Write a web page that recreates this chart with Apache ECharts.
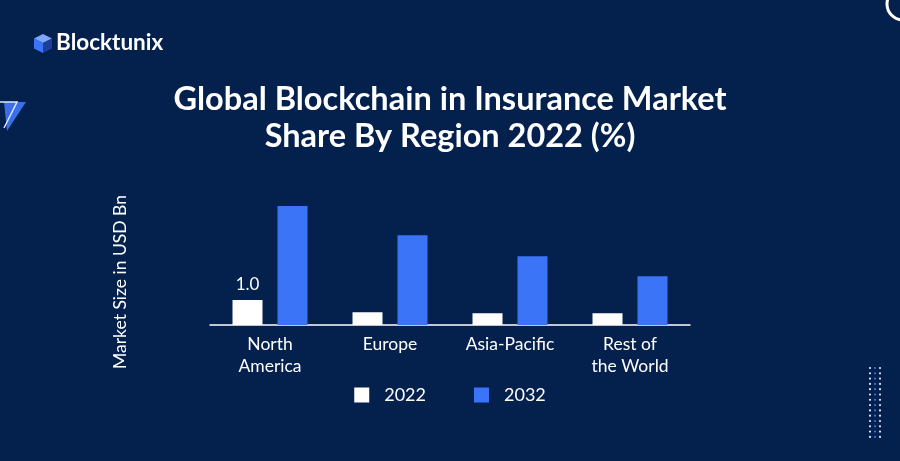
<!DOCTYPE html>
<html>
<head>
<meta charset="utf-8">
<script src="https://cdn.jsdelivr.net/npm/echarts@6/dist/echarts.min.js"></script>
<style>
html,body{margin:0;padding:0;background:#04204d;}
#chart{width:900px;height:461px;}
</style>
</head>
<body>
<div id="chart"></div>
<script>
const categories = ['North\nAmerica', 'Europe', 'Asia-Pacific', 'Rest of\nthe World'];
const values2022 = [1.0, 0.51, 0.47, 0.47];
const values2032 = [4.76, 3.59, 2.75, 1.95];
const seriesNames = ['2022', '2032'];

const FONT = 'Lato, "Open Sans", sans-serif';
const chart = echarts.init(document.getElementById('chart'), null, {renderer: 'canvas'});

// decorative dot matrix (bottom right)
const dots = [];
for (let r = 0; r < 14; r++) {
  for (let c = 0; c < 3; c++) {
    dots.push({
      type: 'circle',
      shape: {cx: 870 + c * 5, cy: 368 + r * 5.3, r: 1.1},
      style: {fill: c === 1 ? '#3b6fe0' : '#dfe8ff'},
      silent: true
    });
  }
}

const option = {
  backgroundColor: '#04204d',
  animation: false,
  title: {
    text: 'Global Blockchain in Insurance Market\nShare By Region 2022 (%)',
    left: 'center',
    top: 76,
    textStyle: {color: '#ffffff', fontFamily: FONT, fontWeight: 'bold', fontSize: 32.5, lineHeight: 37}
  },
  legend: {
    data: seriesNames,
    bottom: 52,
    left: 'center',
    itemWidth: 15,
    itemHeight: 15,
    itemGap: 48,
    icon: 'rect',
    textStyle: {color: '#ffffff', fontFamily: FONT, fontSize: 18, padding: [0, 0, 0, 10]}
  },
  grid: {left: 210, right: 210, top: 200, bottom: 136, containLabel: false},
  xAxis: {
    type: 'category',
    data: categories,
    axisLine: {show: true, lineStyle: {color: '#ffffff', width: 1.5}},
    axisTick: {show: false},
    axisLabel: {color: '#ffffff', fontFamily: FONT, fontSize: 17.5, lineHeight: 22, margin: 8, interval: 0}
  },
  yAxis: {
    type: 'value',
    min: 0,
    max: 5,
    show: false
  },
  series: [
    {
      name: seriesNames[0],
      type: 'bar',
      data: values2022.map((v, i) => i === 0 ? {value: v, label: {show: true}} : v),
      barWidth: 30,
      barGap: '50%',
      itemStyle: {color: '#ffffff'},
      label: {show: false, position: 'top', distance: 7, color: '#ffffff', fontFamily: FONT, fontSize: 17,
        formatter: p => p.value.toFixed(1)}
    },
    {
      name: seriesNames[1],
      type: 'bar',
      data: values2032,
      barWidth: 30,
      barGap: '50%',
      itemStyle: {color: '#3b74f7'}
    }
  ],
  graphic: [
    // logo cube
    {type: 'polygon', shape: {points: [[43, 34], [52, 38.5], [43, 43], [34, 38.5]]}, style: {fill: '#7fa6ff'}, silent: true},
    {type: 'polygon', shape: {points: [[34, 38.5], [43, 43], [43, 53], [34, 48.5]]}, style: {fill: '#3b74f7'}, silent: true},
    {type: 'polygon', shape: {points: [[43, 43], [52, 38.5], [52, 48.5], [43, 53]]}, style: {fill: '#1d3f9a'}, silent: true},
    {type: 'text', left: 56, top: 31, style: {text: 'Blocktunix', fill: '#ffffff', font: 'bold 22.5px ' + FONT}, silent: true},
    // y axis name
    {type: 'text', x: 120, y: 282, rotation: Math.PI / 2,
      style: {text: 'Market Size in USD Bn', fill: '#ffffff', font: '17.5px ' + FONT, align: 'center', verticalAlign: 'middle'}, silent: true},
    // left triangle decoration
    {type: 'polygon', shape: {points: [[4, 102], [26, 102], [7, 131]]}, style: {fill: '#3b6fe8'}, silent: true},
    {type: 'polyline', shape: {points: [[0, 102], [17, 102], [4, 128]]}, style: {stroke: '#dfe8ff', lineWidth: 1.5, fill: null}, silent: true},
    // top right circle
    {type: 'circle', shape: {cx: 903, cy: 4, r: 16}, style: {stroke: '#ffffff', lineWidth: 3, fill: null}, silent: true}
  ].concat(dots)
};
chart.setOption(option);
</script>
</body>
</html>
